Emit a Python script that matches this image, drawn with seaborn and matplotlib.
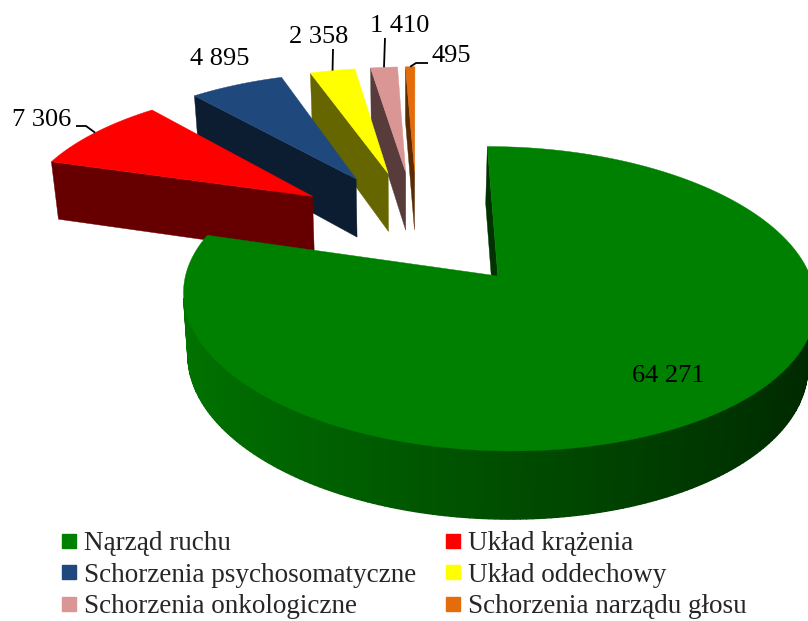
import numpy as np
import seaborn as sns
import matplotlib.pyplot as plt
from matplotlib.lines import Line2D
from matplotlib.patches import Polygon

# Data
categories = ["Nąrząd ruchu", "Układ krążenia", "Schorzenia psychosomatyczne",
              "Układ oddechowy", "Schorzenia onkologiczne", "Schorzenia narządu głosu"]
values = [64271, 7306, 4895, 2358, 1410, 495]
value_labels = ["64 271", "7 306", "4 895", "2 358", "1 410", "495"]
colors = ["#008000", "#FF0000", "#1F497D", "#FFFF00", "#D99694", "#E46C0A"]

# Fake 3D camera, all in screen pixels
CX, CY = 417, 226.9
RX, RY = 297, 134.5
K = 0.142
EXPLODE = 0.433
DEPTH = 60
SHRINK = 0.98
SHRINK_X = 405
SIDE_DARK = 0.4

sns.set_theme(style="white")
plt.rcParams['font.family'] = ['Liberation Serif', 'DejaVu Serif']

fig = plt.figure(figsize=(8.08, 6.21), dpi=100)
ax = fig.add_axes([0, 0, 1, 1])
ax.set_xlim(0, 808)
ax.set_ylim(621, 0)
ax.axis("off")


def project(u, v, bottom=False):
    w = 1 + K * v
    x = CX + RX * u / w
    y = CY - RY * v / w
    if bottom:
        x = SHRINK_X + (x - SHRINK_X) * SHRINK
        y = y + DEPTH / w ** 0.6
    return x, y


def darker(color, f):
    rgb = np.array(plt.matplotlib.colors.to_rgb(color))
    return tuple(rgb * f)


def signed_area(xs, ys):
    return 0.5 * np.sum(xs * np.roll(ys, -1) - np.roll(xs, -1) * ys)


def draw_slice(start, end, color):
    mid = (start + end) / 2
    ou = EXPLODE * np.sin(mid)
    ov = EXPLODE * np.cos(mid)
    n = max(int(np.degrees(end - start)), 2)
    theta = np.linspace(start, end, n + 1)
    us = np.concatenate([[ou], ou + np.sin(theta)])
    vs = np.concatenate([[ov], ov + np.cos(theta)])
    # faces: one per outline edge, the far ones first
    faces = []
    for i in range(len(us)):
        j = (i + 1) % len(us)
        x0, y0 = project(us[i], vs[i])
        x1, y1 = project(us[j], vs[j])
        x2, y2 = project(us[j], vs[j], True)
        x3, y3 = project(us[i], vs[i], True)
        xs = np.array([x0, x1, x2, x3])
        ys = np.array([y0, y1, y2, y3])
        # outline runs clockwise seen from above, keep faces facing the viewer
        if signed_area(xs, ys) > 0:
            continue
        if i == 0 or j == 0:
            f = SIDE_DARK
            lw = 0.3
        else:
            f = 0.6 - 0.3 * np.sin((theta[i - 1] + theta[j - 1]) / 2)
            lw = 1.0  # hides the seams between arc segments
        faces.append(((vs[i] + vs[j]) / 2, xs, ys, f, lw))
    faces.sort(key=lambda t: -t[0])
    for _, xs, ys, f, lw in faces:
        c = darker(color, f)
        ax.add_patch(Polygon(np.column_stack([xs, ys]), closed=True, fc=c, ec=c, lw=lw))
    x, y = project(us, vs)
    ax.add_patch(Polygon(np.column_stack([x, y]), closed=True, fc=color, ec=color, lw=0.3))
    return project(ou + np.sin(mid), ov + np.cos(mid))


# Slices clockwise from north, drawn from the small far ones to the big one
angles = np.concatenate([[0], np.cumsum(values)]) / np.sum(values) * 2 * np.pi
arc_mid = {}
order = [5, 4, 3, 2, 1, 0]
for i in order:
    # small slices sit left of north, so shift them back by a full turn
    a0, a1 = angles[i], angles[i + 1]
    if i > 0:
        a0, a1 = a0 - 2 * np.pi, a1 - 2 * np.pi
    arc_mid[i] = draw_slice(a0, a1, colors[i])

# Value labels, centre of each text in pixels
label_pos = [(668, 376), (42, 120), (220, 59), (319, 37), (400, 26), (451, 56)]
for txt, pos in zip(value_labels, label_pos):
    ax.text(pos[0], pos[1], txt, fontsize=19, color="black", ha="center", va="center")

# Leader lines from the label to the middle of the arc
leaders = {1: [(76, 126), (86, 126)], 3: [(333, 49)], 4: [(385, 38)], 5: [(428, 63), (416, 63)]}
for i, pts in leaders.items():
    xs = [p[0] for p in pts] + [arc_mid[i][0]]
    ys = [p[1] for p in pts] + [arc_mid[i][1]]
    ax.plot(xs, ys, color="black", lw=1.3, solid_capstyle="butt")

# Legend fills by column, the reference reads by row
legend_order = [0, 2, 4, 1, 3, 5]
handles = [Line2D([], [], ls="none", marker="s", ms=10, color=colors[i]) for i in legend_order]
labels = [categories[i] for i in legend_order]
ax.legend(handles, labels, ncol=2, frameon=False, fontsize=19.5,
          loc="upper left", bbox_to_anchor=(60 / 808, 1 - 531 / 621),
          borderaxespad=0, borderpad=0, handlelength=0.7, handletextpad=0.2,
          columnspacing=1.0, labelspacing=0.24)

fig.savefig("out.png", dpi=100)
